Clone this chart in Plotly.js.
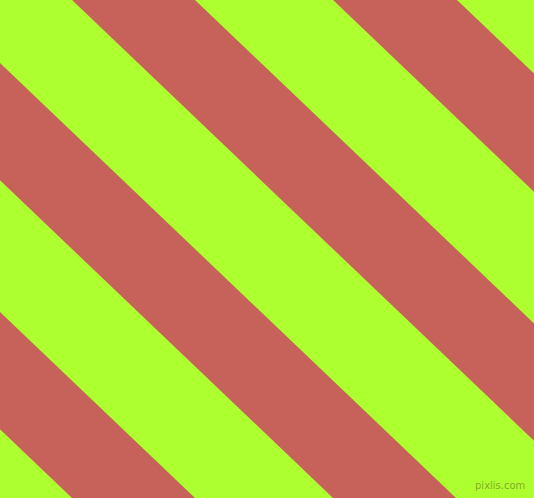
<!DOCTYPE html>
<html>
<head>
<meta charset="utf-8">
<script src="https://cdn.plot.ly/plotly-3.0.1.min.js"></script>
<style>html,body{margin:0;padding:0;background:#ADFF2F;}#chart{width:534px;height:498px;}</style>
</head>
<body>
<div id="chart"></div>
<script>
// Stripe data: x positions where each red band's edges meet the top edge (y = 0)
var redLeftTop  = [-450, -189, 72, 333];
var redRightTop = [-327, -66, 195, 457];
// slope of the stripes (dy/dx)
var stripeSlope = 0.954;
var imgWidth = 534, imgHeight = 498;
var greenColor = '#ADFF2F';
var redColor = '#C7625A';

var shift = imgHeight / stripeSlope;
var traces = redLeftTop.map(function (a, i) {
  var b = redRightTop[i];
  return {
    type: 'scatter', mode: 'lines',
    x: [a, b, b + shift, a + shift, a],
    y: [0, 0, imgHeight, imgHeight, 0],
    fill: 'toself', fillcolor: redColor,
    line: {width: 0, color: redColor},
    hoverinfo: 'skip', showlegend: false
  };
});

var layout = {
  width: imgWidth, height: imgHeight,
  margin: {l: 0, r: 0, t: 0, b: 0, pad: 0},
  paper_bgcolor: greenColor, plot_bgcolor: greenColor,
  xaxis: {range: [0, imgWidth], visible: false, fixedrange: true},
  yaxis: {range: [imgHeight, 0], visible: false, fixedrange: true},
  showlegend: false,
  annotations: [{
    text: 'pixlis.com', xref: 'paper', yref: 'paper',
    x: 0.987, y: 0.01, xanchor: 'right', yanchor: 'bottom',
    showarrow: false,
    font: {family: 'DejaVu Sans', size: 10, color: 'rgba(125,160,40,0.9)'}
  }]
};
Plotly.newPlot('chart', traces, layout, {staticPlot: true, displayModeBar: false});
</script>
</body>
</html>
